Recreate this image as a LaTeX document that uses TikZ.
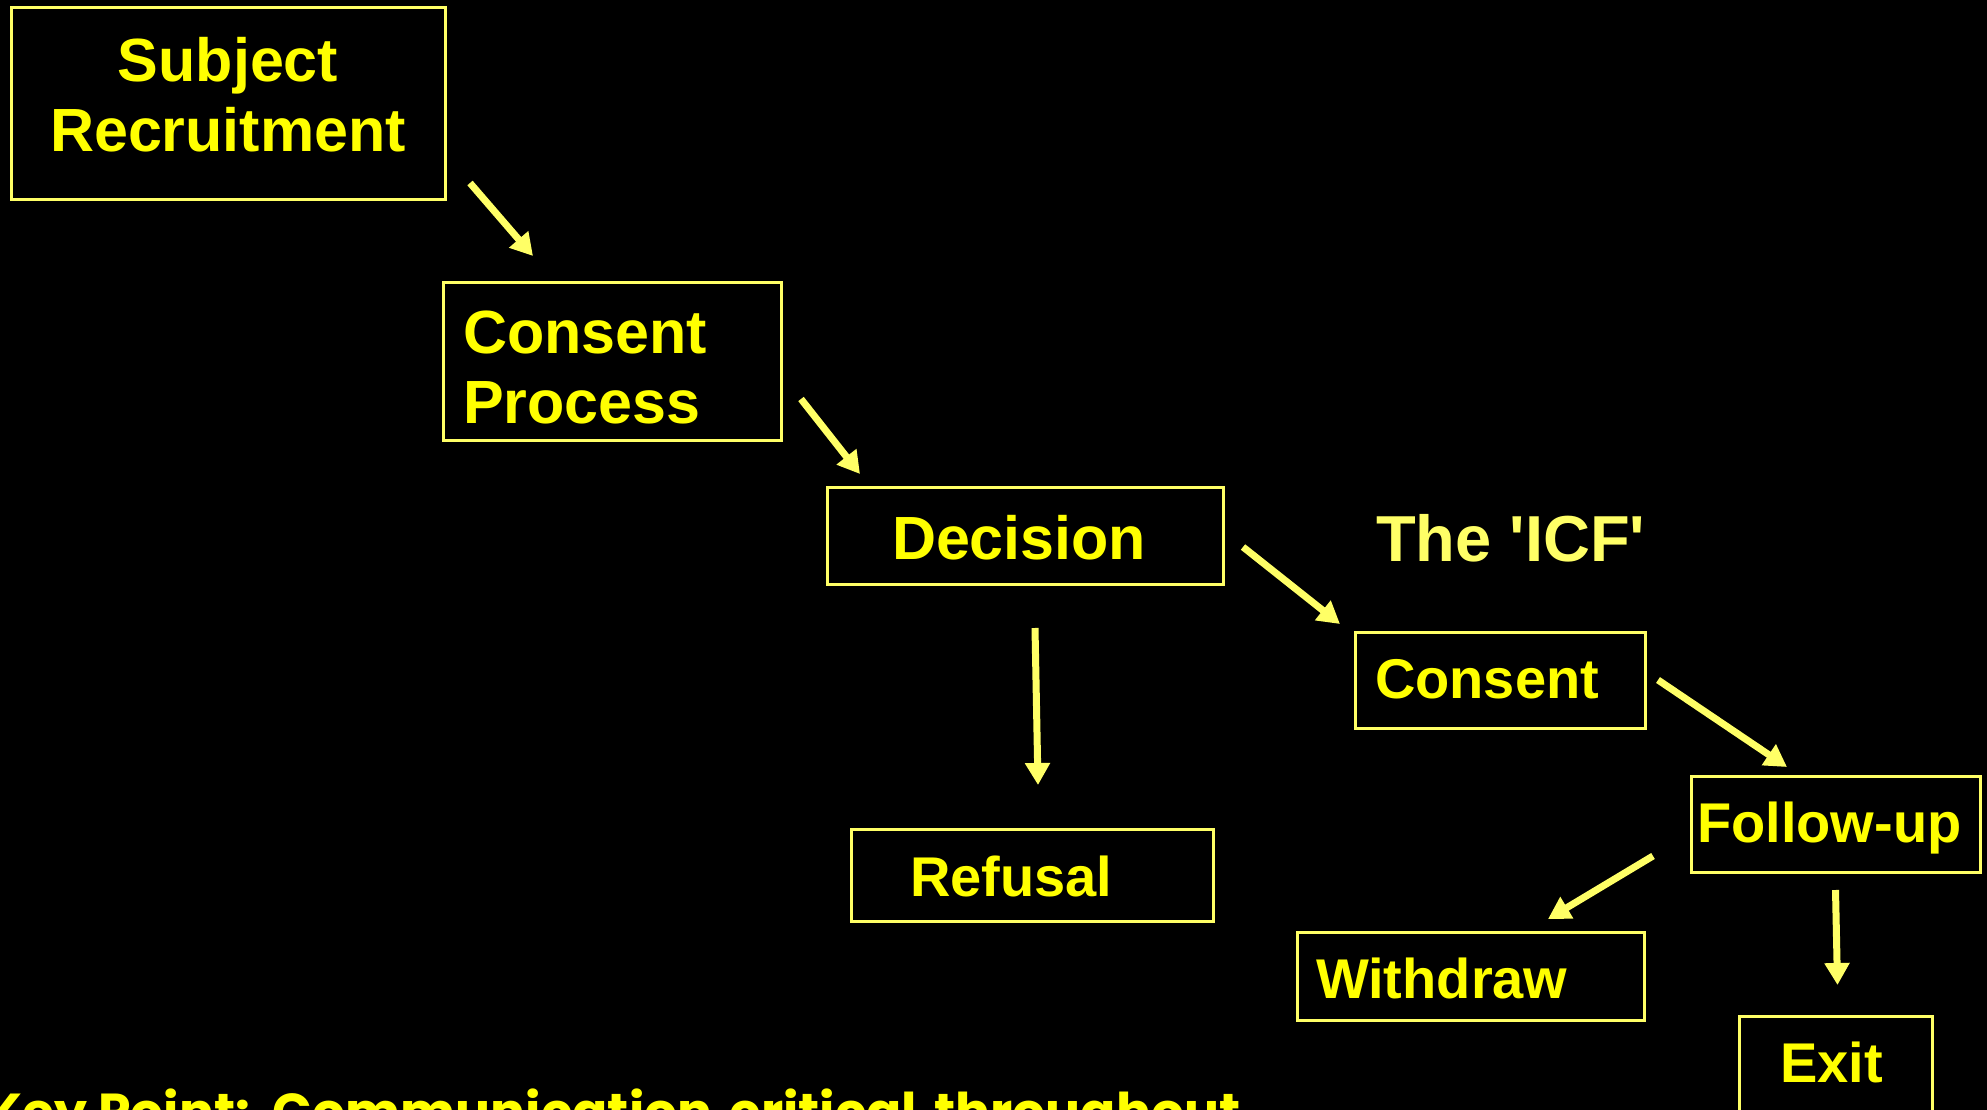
\documentclass[tikz,border=0pt]{standalone}
\usepackage{fontspec}
\setmainfont{Liberation Sans}
\newfontfamily\keyfont{Poppins}
\usetikzlibrary{arrows.meta,calc}
\definecolor{lineyellow}{RGB}{255,255,102}
\definecolor{textyellow}{RGB}{255,255,0}
\tikzset{
	stage/.style={draw=lineyellow, line width=3pt, text=textyellow, anchor=north west, outer sep=0pt, inner ysep=0pt, align=left},
	bigtext/.style={font=\bfseries\fontsize{61}{70}\selectfont},
	smalltext/.style={font=\bfseries\fontsize{56}{64}\selectfont},
	flow/.style={draw=lineyellow, line width=7pt, -{Triangle[length=22pt,width=24pt]}}
}

\begin{document}
\begin{tikzpicture}[x=1pt, y=-1pt]
	\path[fill=black, use as bounding box] (0,0) rectangle (1987,1110);
	\node (rec) [stage, bigtext, align=center, inner xsep=10pt, text width=414pt, text height=74pt, text depth=118pt] at (11, 8) {Subject\\Recruitment};
	\node (proc) [stage, bigtext, inner xsep=20pt, text width=298pt, text height=71pt, text depth=87pt] at (443, 282) {Consent\\Process};
	\node (dec) [stage, bigtext, inner xsep=65pt, text width=266pt, text height=72pt, text depth=25pt] at (827, 487) {Decision};
	\node (ref) [stage, smalltext, inner xsep=59pt, text width=244pt, text height=67pt, text depth=25pt] at (851, 829) {Refusal};
	\node (con) [stage, smalltext, inner xsep=20pt, text width=250pt, text height=66pt, text depth=30pt] at (1355, 632) {Consent};
	\node (fol) [stage, smalltext, inner xsep=6pt, text width=277pt, text height=66pt, text depth=30pt] at (1691, 776) {\mbox{Follow-up}};
	\node (wd) [stage, smalltext, inner xsep=19pt, text width=309pt, text height=66pt, text depth=22pt] at (1297, 932) {Withdraw};
	\node (ex) [stage, smalltext, inner xsep=41pt, text width=111pt, text height=66pt, text depth=44pt] at (1739, 1016) {Exit};
	\node (icf) [anchor=base west, inner sep=0pt, text=lineyellow, font=\bfseries\fontsize{65}{75}\selectfont] at (1376, 561) {The \textquotesingle ICF\textquotesingle};
	\node (key) [anchor=base west, inner sep=0pt, text=textyellow, font=\keyfont\bfseries\fontsize{52}{60}\selectfont] at (-14, 1130) {Key Point:\hspace{8pt} Communication\hspace{6pt} critical\hspace{6pt} throughout};
	\draw[flow] ($(rec.south east)+(25,-17)$) -- ($(proc.north west)+(90,-26)$);
	\draw[flow] ($(proc.south east)+(20,-41)$) -- ($(dec.north west)+(33,-13)$);
	\draw[flow] ($(dec.north east)+(20,60)$) -- ($(con.north west)+(-15,-8)$);
	\draw[flow] ($(dec.south)+(10,44)$) -- ($(ref.north)+(6,-44)$);
	\draw[flow] ($(con.north east)+(13,48)$) -- ($(fol.north west)+(96,-9)$);
	\draw[flow] ($(fol.south west)+(-38,-16)$) -- ($(wd.north east)+(-96,-13)$);
	\draw[flow] ($(fol.south)+(0,18)$) -- ($(ex.north)+(2,-31)$);
\end{tikzpicture}
\end{document}
